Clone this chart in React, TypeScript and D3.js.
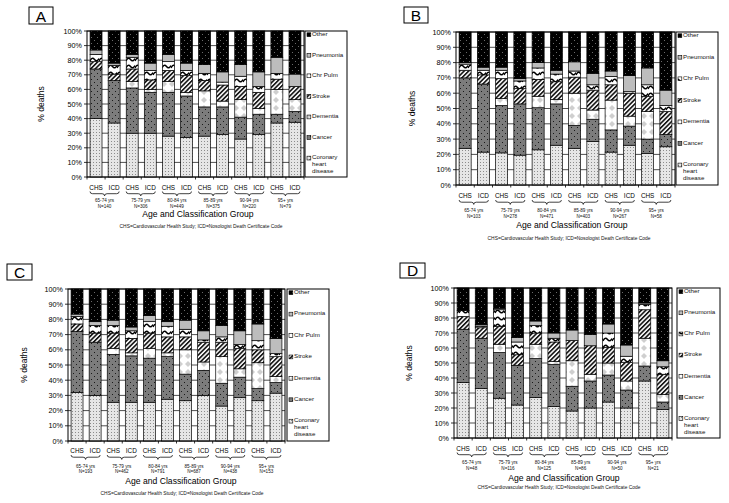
import React from 'react';
import * as d3 from 'd3';

const categories = ['Coronary heart disease', 'Cancer', 'Dementia', 'Stroke', 'Chr Pulm', 'Pneumonia', 'Other'];
const legendLabels = [['Other'], ['Pneumonia'], ['Chr Pulm'], ['Stroke'], ['Dementia'], ['Cancer'], ['Coronary', 'heart', 'disease']];
const legendOrder = ['Other', 'Pneumonia', 'Chr Pulm', 'Stroke', 'Dementia', 'Cancer', 'Coronary heart disease'];
const classGroups = ['CHS', 'ICD'];
const ageLabels = ['65-74 yrs', '75-79 yrs', '80-84 yrs', '85-89 yrs', '90-94 yrs', '95+ yrs'];
const yTicks = [0, 10, 20, 30, 40, 50, 60, 70, 80, 90, 100];
const panelLetters = ['A', 'B', 'C', 'D'];
const xTitle = 'Age and Classification Group';
const footnote = 'CHS=Cardiovascular Health Study; ICD=Nosologist Death Certificate Code';
const yTitle = '% deaths';

const nA = [140, 306, 449, 375, 220, 79];
const nB = [103, 278, 471, 403, 267, 58];
const nC = [193, 462, 791, 687, 438, 153];
const nD = [48, 116, 125, 86, 50, 21];

// Bars in order: CHS, ICD for each age group
const A_chd = [40, 37, 30, 30, 28, 27, 28, 29, 26, 29, 37, 37.5];
const A_cancer = [34, 29, 31, 28, 30, 28.5, 20, 19, 15, 14, 6, 7.5];
const A_dementia = [0, 0, 4.5, 2, 7.5, 2.5, 11, 4, 12, 4, 17, 8];
const A_stroke = [5, 4.5, 8.5, 6.5, 7.5, 11.5, 7, 11, 9, 11, 7, 9];
const A_chrpulm = [5, 6, 8, 6.5, 6, 3.5, 5, 2, 7, 4, 4, 0];
const A_pneumonia = [3, 1.5, 2, 5, 5, 5, 6, 7, 8, 10, 11, 8.5];
const A_other = [13, 22, 16, 22, 16, 22, 23, 28, 23, 28, 18, 29.5];

const B_chd = [24, 21.5, 21, 19.5, 23, 26, 24, 28.5, 21.5, 26, 20.5, 25];
const B_cancer = [46, 44.5, 31, 33.5, 27.5, 27, 15, 14.5, 14.5, 12.5, 9.5, 8];
const B_dementia = [0, 0, 4.5, 0, 7.5, 3, 21, 6, 19.5, 6.5, 18, 0];
const B_stroke = [5, 6, 13, 10, 11, 11.5, 10.5, 13, 10, 15, 10, 15];
const B_chrpulm = [4, 3, 5.5, 5, 7.5, 5, 4, 3.5, 5.5, 1, 7.5, 4];
const B_pneumonia = [1, 2, 2, 1.5, 3.5, 2.5, 6, 7.5, 3.5, 10.5, 11, 10];
const B_other = [20, 23, 23, 30.5, 20, 25, 19.5, 27, 25.5, 28.5, 23.5, 38];

const C_chd = [32, 30, 25.5, 25.5, 25.5, 27.5, 26.5, 30, 23, 28.5, 26.5, 31.5];
const C_cancer = [40, 35, 31.5, 30.5, 29, 28, 17.5, 16.5, 15, 13.5, 8, 7];
const C_dementia = [0, 0, 4, 2, 6.5, 2.5, 16, 5.5, 17.5, 5.5, 17, 4];
const C_stroke = [5, 6, 10, 9.5, 10, 10.5, 8.5, 13, 9.5, 13.5, 8.5, 13];
const C_chrpulm = [5, 5, 5, 5, 7.5, 7, 5, 1.5, 3.5, 2.5, 6, 2];
const C_pneumonia = [1.5, 2.5, 3.5, 2.5, 4, 3, 6, 6, 7.5, 9, 11, 10];
const C_other = [16.5, 21.5, 20.5, 25, 17.5, 21.5, 20.5, 27.5, 24, 27.5, 23, 32.5];

const D_chd = [37, 33, 26.5, 22, 27, 21, 18, 20, 24, 20, 38, 19];
const D_cancer = [35.5, 33.5, 30.5, 26.5, 26, 28, 16.5, 18, 18, 12, 10, 5];
const D_dementia = [0, 0, 5.5, 0, 9.5, 2, 17, 4.5, 8, 6, 18.5, 5];
const D_stroke = [8.5, 7, 12, 7, 7.5, 13, 13.5, 19, 10.5, 12.5, 19, 13.5];
const D_chrpulm = [4, 1, 11, 8.5, 5, 2.5, 0, 0, 9.5, 4, 3.5, 5];
const D_pneumonia = [0, 1, 1, 3, 3, 3.5, 7, 7.5, 6, 7.5, 1, 4];
const D_other = [15, 24.5, 13.5, 33, 22, 30, 28, 31, 24, 38, 10, 48.5];

const seriesByPanel = [
  [A_chd, A_cancer, A_dementia, A_stroke, A_chrpulm, A_pneumonia, A_other],
  [B_chd, B_cancer, B_dementia, B_stroke, B_chrpulm, B_pneumonia, B_other],
  [C_chd, C_cancer, C_dementia, C_stroke, C_chrpulm, C_pneumonia, C_other],
  [D_chd, D_cancer, D_dementia, D_stroke, D_chrpulm, D_pneumonia, D_other],
];
const nByPanel = [nA, nB, nC, nD];

const fills: Record<string, string> = {
  'Coronary heart disease': 'url(#pCHD)',
  'Cancer': 'url(#pCancer)',
  'Dementia': 'url(#pDementia)',
  'Stroke': 'url(#pStroke)',
  'Chr Pulm': 'url(#pChr)',
  'Pneumonia': '#bdbdbd',
  'Other': 'url(#pOther)',
};

const layouts = [
  { letter: [29, 7, 24, 17], plot: [87, 304, 31, 177], legend: [305, 347], yTitleX: 44, cat: 189.5, brace: 191.5, age: 201.5, n: 207.5, titleX: 198, titleY: 216.5, footX: 201, footY: 228 },
  { letter: [404, 7, 24, 16], plot: [456, 675, 32, 185], legend: [676, 718], yTitleX: 415, cat: 198, brace: 200, age: 212, n: 218, titleX: 572, titleY: 228, footX: 569, footY: 239.5 },
  { letter: [7, 264, 25, 16], plot: [68, 285, 289, 441], legend: [287, 329], yTitleX: 27, cat: 453, brace: 455, age: 467.5, n: 473, titleX: 181, titleY: 484, footX: 182, footY: 495 },
  { letter: [400, 263, 25, 15], plot: [454, 672, 288, 438], legend: [677, 720], yTitleX: 412, cat: 450.5, brace: 452.5, age: 464, n: 470, titleX: 564, titleY: 481, footX: 559, footY: 488.5 },
];

const FONT = '"Liberation Sans", Arial, sans-serif';

function bracePath(x1: number, x2: number, y: number) {
  const mid = (x1 + x2) / 2;
  const p = d3.path();
  const h = 2.2;
  p.moveTo(x1, y);
  p.quadraticCurveTo(x1, y + h, x1 + 2.5, y + h);
  p.lineTo(mid - 2.5, y + h);
  p.quadraticCurveTo(mid, y + h, mid, y + h + 2.2);
  p.quadraticCurveTo(mid, y + h, mid + 2.5, y + h);
  p.lineTo(x2 - 2.5, y + h);
  p.quadraticCurveTo(x2, y + h, x2, y);
  return p.toString();
}

function Panel({ idx }: { idx: number }) {
  const L = layouts[idx];
  const [pl, pr, pt, pb] = L.plot;
  const series = seriesByPanel[idx];
  const ns = nByPanel[idx];
  const rows = d3.range(12).map((i) => {
    const r: Record<string, number> = {};
    categories.forEach((c, k) => (r[c] = series[k][i]));
    return r;
  });
  const stacked = d3.stack<Record<string, number>>().keys(categories)(rows);
  const x = d3.scaleBand<number>().domain(d3.range(12)).range([pl, pr]).paddingInner(0.34).paddingOuter(0.17);
  const y = d3.scaleLinear().domain([0, 100]).range([pb, pt]);
  const [ll, lr] = L.legend;
  const lh = pb - pt;
  const step = lh / 7.1;

  return (
    <g>
      <rect x={L.letter[0]} y={L.letter[1]} width={L.letter[2]} height={L.letter[3]} fill="#fff" stroke="#000" strokeWidth={1} />
      <text x={L.letter[0] + L.letter[2] / 2} y={L.letter[1] + L.letter[3] - 2.5} textAnchor="middle" fontSize={15.5} fontFamily={FONT} fill="#000">{panelLetters[idx]}</text>

      {yTicks.map((t) => (
        <line key={'g' + t} x1={pl} x2={pr} y1={y(t)} y2={y(t)} stroke="#222" strokeWidth={0.8} />
      ))}
      {stacked.map((s) => (
        <g key={s.key}>
          {s.map((d, i) =>
            d[1] - d[0] > 0 ? (
              <rect key={i} x={x(i)} width={x.bandwidth()} y={y(d[1])} height={y(d[0]) - y(d[1])} fill={fills[s.key]} stroke="#000" strokeWidth={0.7} />
            ) : null
          )}
        </g>
      ))}
      <rect x={pl} y={pt} width={pr - pl} height={pb - pt} fill="none" stroke="#000" strokeWidth={1} />
      {yTicks.map((t) => (
        <g key={'t' + t}>
          <line x1={pl - 3} x2={pl} y1={y(t)} y2={y(t)} stroke="#000" strokeWidth={0.8} />
          <text x={pl - 5} y={y(t) + 2.5} textAnchor="end" fontSize={7.2} fontFamily={FONT} fill="#000">{t + '%'}</text>
        </g>
      ))}
      <text transform={`translate(${L.yTitleX},${(pt + pb) / 2}) rotate(-90)`} textAnchor="middle" fontSize={8.5} fontFamily={FONT} fill="#000">{yTitle}</text>
      {d3.range(13).map((i) => {
        const xx = pl + (i * (pr - pl)) / 12;
        return <line key={'xt' + i} x1={xx} x2={xx} y1={pb} y2={pb + 2.5} stroke="#000" strokeWidth={0.8} />;
      })}
      {d3.range(12).map((i) => (
        <text key={'c' + i} x={x(i)! + x.bandwidth() / 2} y={L.cat} textAnchor="middle" fontSize={6.4} fontFamily={FONT} fill="#000">{classGroups[i % 2]}</text>
      ))}
      {ageLabels.map((a, g) => {
        const c1 = x(2 * g)! + x.bandwidth() / 2;
        const c2 = x(2 * g + 1)! + x.bandwidth() / 2;
        const x1 = c1 - 6;
        const x2 = c2 + 5;
        const mid = (x1 + x2) / 2;
        return (
          <g key={'a' + g}>
            <path d={bracePath(x1, x2, L.brace)} fill="none" stroke="#111" strokeWidth={0.8} />
            <text x={mid} y={L.age} textAnchor="middle" fontSize={4.6} fontFamily={FONT} fill="#111">{a}</text>
            <text x={mid} y={L.n} textAnchor="middle" fontSize={4.6} fontFamily={FONT} fill="#111">{'N=' + ns[g]}</text>
          </g>
        );
      })}
      <text x={L.titleX} y={L.titleY} textAnchor="middle" fontSize={8.6} fontFamily={FONT} fill="#000">{xTitle}</text>
      <text x={L.footX} y={L.footY} textAnchor="middle" fontSize={4.9} fontFamily={FONT} fill="#111">{footnote}</text>

      <rect x={ll} y={pt} width={lr - ll} height={lh} fill="#fff" stroke="#000" strokeWidth={1} />
      {legendOrder.map((k, i) => {
        const yy = pt + 5 + i * step;
        return (
          <g key={'l' + k}>
            <rect x={ll + 2} y={yy - 3.2} width={3.8} height={3.8} fill={fills[k]} stroke="#000" strokeWidth={0.6} />
            {legendLabels[i].map((line, j) => (
              <text key={j} x={ll + 7} y={yy + j * 7} fontSize={6.2} fontFamily={FONT} fill="#111">{line}</text>
            ))}
          </g>
        );
      })}
    </g>
  );
}

export default function App() {
  return (
    <svg width={729} height={503} style={{ position: 'absolute', left: 0, top: 0, background: '#fff' }}>
      <defs>
        <pattern id="pCHD" width={3} height={3} patternUnits="userSpaceOnUse">
          <rect width={3} height={3} fill="#e6e6e6" />
          <rect x={0} y={0} width={1} height={1} fill="#8c8c8c" />
        </pattern>
        <pattern id="pCancer" width={6} height={6} patternUnits="userSpaceOnUse">
          <rect width={6} height={6} fill="#7c7c7c" />
          <rect x={1} y={1} width={1} height={1} fill="#1a1a1a" />
          <rect x={4} y={4} width={1} height={1} fill="#1a1a1a" />
        </pattern>
        <pattern id="pDementia" width={8} height={8} patternUnits="userSpaceOnUse">
          <rect width={8} height={8} fill="#fff" />
          <path d="M4 1 L7 4 L4 7 L1 4 Z" fill="#cfcfcf" />
        </pattern>
        <pattern id="pStroke" width={3.2} height={3.2} patternUnits="userSpaceOnUse" patternTransform="rotate(45)">
          <rect width={3.2} height={3.2} fill="#fff" />
          <rect width={1.7} height={3.2} fill="#1a1a1a" />
        </pattern>
        <pattern id="pChr" width={9} height={7} patternUnits="userSpaceOnUse">
          <rect width={9} height={7} fill="#fff" />
          <path d="M0 5 Q2 0.5 4.5 3.5 T9 2.5" stroke="#000" strokeWidth={1.5} fill="none" />
        </pattern>
        <pattern id="pOther" width={6} height={6} patternUnits="userSpaceOnUse">
          <rect width={6} height={6} fill="#000" />
          <rect x={1} y={1} width={1} height={1} fill="#6a6a6a" />
          <rect x={4} y={4} width={1} height={1} fill="#6a6a6a" />
        </pattern>
      </defs>
      <rect width={729} height={503} fill="#fff" />
      {[0, 1, 2, 3].map((i) => (
        <Panel key={i} idx={i} />
      ))}
    </svg>
  );
}
